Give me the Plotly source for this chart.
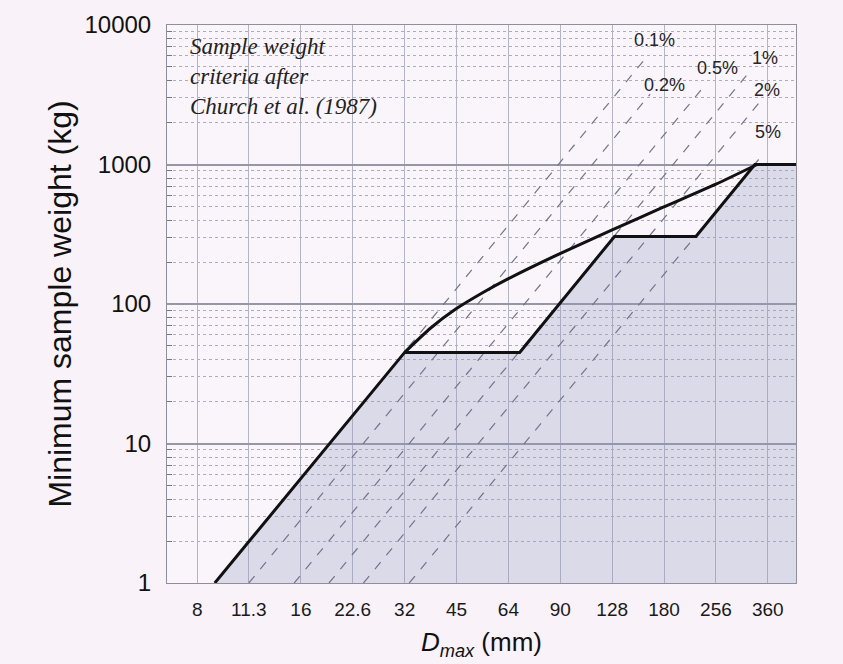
import math
import plotly.graph_objects as go

# ---- data ----
# lower boundary (criterion with steps), D in mm, weight in kg
lower_d = [9.0, 32.0, 69.0, 130.0, 224.0, 332.0, 437.0]
lower_w = [1.0, 45.0, 45.0, 305.0, 305.0, 1000.0, 1000.0]

# upper (smooth) curve
upper_d = [32.0, 38.0, 45.0, 54.0, 64.0, 90.0, 128.0, 180.0, 256.0, 337.0]
upper_w = [45.0, 67.0, 92.0, 121.0, 152.0, 229.0, 340.0, 494.0, 723.0, 1000.0]

# percentage reference lines (start at 1 kg, end near label)
pct_labels = ["0.1%", "0.2%", "0.5%", "1%", "2%", "5%"]
pct_d_start = [9.0, 11.3, 15.3, 19.3, 24.3, 33.0]
pct_w_start = [1.0, 1.0, 1.0, 1.0, 1.0, 1.0]
pct_d_end = [162.0, 165.0, 240.0, 322.0, 340.0, 352.0]
pct_w_end = [6000.0, 3200.0, 3800.0, 4700.0, 2730.0, 1200.0]
# label positions (D, kg)
pct_lab_d = [170.0, 182.0, 259.0, 355.0, 360.0, 362.0]
pct_lab_w = [7800.0, 3715.0, 4920.0, 5800.0, 3420.0, 1710.0]

x_tickvals = [8, 11.3, 16, 22.6, 32, 45.25, 64, 90.5, 128, 181, 256, 362]
x_ticktext = ["8", "11.3", "16", "22.6", "32", "45", "64", "90", "128", "180", "256", "360"]
y_tickvals = [1, 10, 100, 1000, 10000]
y_ticktext = ["1", "10", "100", "1000", "10000"]

PAPER = "#f9f2f8"
SHADE = "rgba(150,155,195,0.30)"

fig = go.Figure()

# shaded region below lower boundary
fig.add_trace(go.Scatter(
    x=lower_d + [lower_d[-1], lower_d[0]],
    y=lower_w + [1.0, 1.0],
    fill="toself", fillcolor=SHADE, mode="none",
    hoverinfo="skip", showlegend=False))

# dashed percentage lines
for ds, ws, de, we in zip(pct_d_start, pct_w_start, pct_d_end, pct_w_end):
    fig.add_trace(go.Scatter(
        x=[ds, de], y=[ws, we], mode="lines",
        line=dict(color="#74748a", width=1.2, dash="dash"),
        hoverinfo="skip", showlegend=False))

# criterion lines
fig.add_trace(go.Scatter(x=upper_d, y=upper_w, mode="lines", line_shape="spline",
                         line=dict(color="#111111", width=3, smoothing=0.6), showlegend=False))
fig.add_trace(go.Scatter(x=lower_d, y=lower_w, mode="lines",
                         line=dict(color="#111111", width=3), showlegend=False))

# percentage labels (log axes -> annotation positions in log10 units)
for lab, d, w in zip(pct_labels, pct_lab_d, pct_lab_w):
    fig.add_annotation(x=math.log10(d), y=math.log10(w), xref="x", yref="y", text=lab,
                       showarrow=False,
                       font=dict(family="Liberation Sans, Arial", size=18, color="#262626"))

# text box
fig.add_annotation(x=0.033, y=0.988, xref="paper", yref="paper", xanchor="left", yanchor="top",
                   align="left", showarrow=False,
                   text="<i>Sample weight<br>criteria after<br>Church et al. (1987)</i>",
                   font=dict(family="Liberation Serif, Times New Roman", size=23, color="#222222"))

minor_y = [2, 3, 4, 5, 6, 7, 8, 9, 20, 30, 40, 50, 60, 70, 80, 90,
           200, 300, 400, 500, 600, 700, 800, 900, 2000, 3000, 4000, 5000, 6000, 7000, 8000, 9000]

fig.update_layout(
    width=843, height=664,
    margin=dict(l=167, r=47, t=25, b=81),
    paper_bgcolor=PAPER, plot_bgcolor="#faf5fa",
    xaxis=dict(type="log", range=[0.8156, 2.6405],
               tickmode="array", tickvals=x_tickvals, ticktext=x_ticktext,
               tickfont=dict(family="Liberation Sans, Arial", size=19, color="#1a1a1a"),
               showgrid=True, gridcolor="#b4b4c2", gridwidth=1,
               showline=True, linecolor="#8f8f9a", mirror=True,
               ticks="outside", ticklen=9, tickcolor="rgba(0,0,0,0)", zeroline=False,
               title=dict(text="<i>D<sub>max</sub></i> (mm)", standoff=14,
                          font=dict(family="Liberation Sans, Arial", size=26, color="#111111"))),
    yaxis=dict(type="log", range=[0, 4],
               tickmode="array", tickvals=y_tickvals, ticktext=y_ticktext,
               tickfont=dict(family="Liberation Sans, Arial", size=24, color="#111111"),
               showgrid=True, gridcolor="#9696a6", gridwidth=1.5,
               minor=dict(tickvals=minor_y, showgrid=True, gridcolor="#acacba",
                          griddash="dot", gridwidth=1, ticks="inside", ticklen=5,
                          tickcolor="#777777"),
               showline=True, linecolor="#8f8f9a", mirror=True,
               ticks="outside", ticklen=10, tickcolor="rgba(0,0,0,0)", zeroline=False,
               title=dict(text="Minimum sample weight (kg)", standoff=3,
                          font=dict(family="Liberation Sans, Arial", size=32, color="#111111"))),
)

fig.write_html("out.html")
